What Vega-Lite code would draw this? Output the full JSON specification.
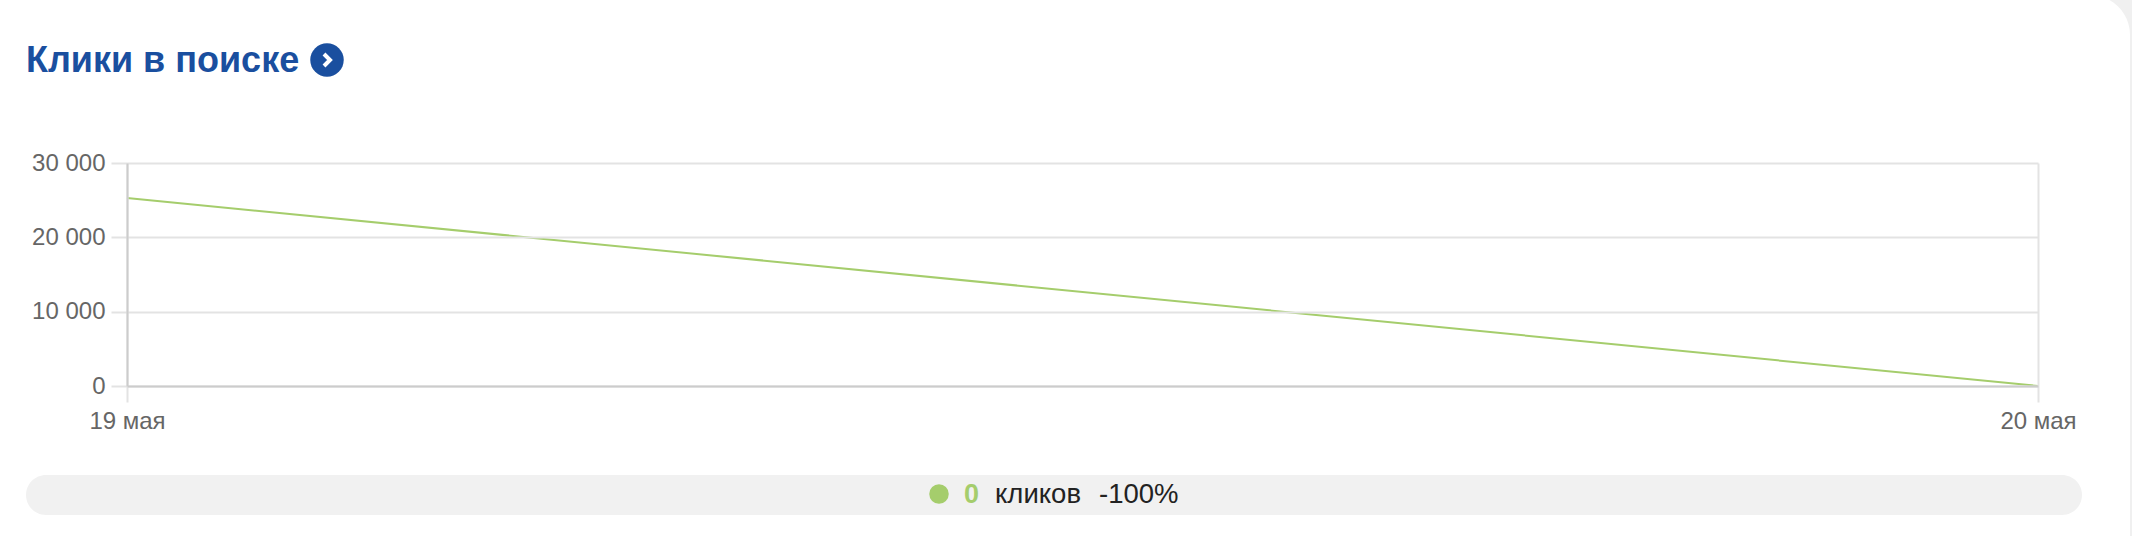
{
"$schema":"https://vega.github.io/schema/vega-lite/v6.json",
"width":1911,"height":223,
"autosize":{"type":"none"},
"padding":{"left":127,"top":163,"right":94,"bottom":150},
"background":"#f0f0f0",
"config":{"view":{"stroke":null},"font":"Liberation Sans"},
"datasets":{
 "series":[{"date":"2024-05-19T00:00:00Z","clicks":25300},{"date":"2024-05-20T00:00:00Z","clicks":0}],
 "summary":[{"title":"Клики в поиске","clicks":"0","unit":"кликов","change":"-100%"}]
},
"layer":[
 {"data":{"name":"summary"},"mark":{"type":"rect","x":-127,"x2":2003,"y":-168,"y2":400,"fill":"#ffffff","cornerRadiusTopRight":40,"clip":false},"encoding":{}},
 {"data":{"name":"summary"},"mark":{"type":"rect","x":-101,"x2":1955,"y":312,"y2":352,"fill":"#f1f1f1","cornerRadius":20},"encoding":{}},
 {"data":{"name":"summary"},"mark":{"type":"text","x":-101,"y":-91,"align":"left","baseline":"alphabetic","fontSize":36,"fontWeight":"bold","color":"#1a4f9f"},"encoding":{"text":{"field":"title"}}},
 {"data":{"name":"summary"},"mark":{"type":"point","x":200,"y":-103,"size":1120,"shape":"circle","filled":true,"fill":"#1a4f9f","opacity":1},"encoding":{}},
 {"data":{"name":"summary"},"mark":{"type":"point","x":200,"y":-103,"size":400,"shape":"M-0.3,-0.6L0.3,0L-0.3,0.6","filled":false,"stroke":"#ffffff","strokeWidth":4,"opacity":1},"encoding":{}},
 {"data":{"name":"series"},"mark":{"type":"line","color":"#a5cd6c","strokeWidth":2},
  "encoding":{
   "x":{"field":"date","type":"temporal","scale":{"type":"utc","domain":["2024-05-19T00:00:00Z","2024-05-20T00:00:00Z"]},"title":null,
     "axis":{"values":["2024-05-19T00:00:00Z","2024-05-20T00:00:00Z"],"labelExpr":"utcdate(datum.value)+' мая'","labelFontSize":24,"labelColor":"#666666","labelPadding":7,"labelFont":"Liberation Sans","labelAngle":0,"labelOverlap":false,"labelFlush":false,"tickSize":16,"tickWidth":2,"tickColor":"#e3e3e3","domainColor":"#cccccc","domainWidth":2,"grid":true,"gridColor":"#e3e3e3","gridWidth":2,"zindex":1}},
   "y":{"field":"clicks","type":"quantitative","scale":{"domain":[0,30000]},"title":null,
     "axis":{"values":[0,10000,20000,30000],"labelExpr":"replace(format(datum.value,','),',',' ')","labelFontSize":24,"labelColor":"#666666","labelPadding":6,"labelFont":"Liberation Sans","tickSize":16,"tickWidth":2,"tickColor":"#e3e3e3","domainColor":"#cccccc","domainWidth":2,"grid":true,"gridColor":"#e3e3e3","gridWidth":2,"zindex":1}}
  }},
 {"data":{"name":"summary"},"mark":{"type":"point","x":812,"y":331,"size":380,"shape":"circle","filled":true,"fill":"#a5cd6c","opacity":1},"encoding":{}},
 {"data":{"name":"summary"},"mark":{"type":"text","x":837,"y":340,"align":"left","baseline":"alphabetic","fontSize":27,"fontWeight":"bold","color":"#a5cd6c"},"encoding":{"text":{"field":"clicks"}}},
 {"data":{"name":"summary"},"mark":{"type":"text","x":868,"y":340,"align":"left","baseline":"alphabetic","fontSize":27.5,"color":"#222222"},"encoding":{"text":{"field":"unit"}}},
 {"data":{"name":"summary"},"mark":{"type":"text","x":972,"y":340,"align":"left","baseline":"alphabetic","fontSize":27.5,"color":"#222222"},"encoding":{"text":{"field":"change"}}}
]
}
